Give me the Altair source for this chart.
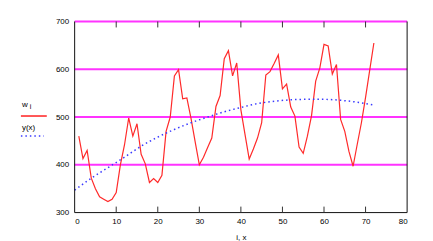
import altair as alt
import pandas as pd

# red series w_i, i = 1..72
w_i = list(range(1, 73))
w_vals = [460, 413, 430, 372, 350, 333, 328, 323, 328, 342,
          400, 442, 498, 460, 486, 422, 402, 363, 371, 363,
          378, 470, 500, 586, 599, 538, 540, 497, 448, 400,
          416, 436, 456, 522, 545, 622, 639, 586, 613, 515,
          463, 412, 433, 456, 488, 588, 595, 612, 630, 559,
          569, 521, 502, 437, 424, 460, 503, 575, 603, 652,
          649, 590, 610, 495, 470, 428, 397, 443, 488, 541,
          598, 655]

# blue fitted curve y(x)
y_x = [0, 4, 8, 12, 16, 20, 24, 28, 32, 36, 40, 44, 48, 52, 56, 60, 64, 68, 72]
y_vals = [347, 372, 394, 416, 439, 458, 474, 488, 500, 511, 520, 528, 533, 536, 537, 537, 535, 531, 525]

x_ticks = [0, 10, 20, 30, 40, 50, 60, 70, 80]
inner_ticks = [10, 20, 30, 40, 50, 60, 70]
y_ticks = [300, 400, 500, 600, 700]
grid_vals = [400, 500, 600, 700]
frame_x = [0, 80]

W, H = 334, 192
LW = 48
FONT = "Liberation Sans"

red_df = pd.DataFrame({"i": w_i, "w": w_vals})
blue_df = pd.DataFrame({"x": y_x, "y": y_vals})
grid_df = pd.DataFrame({"g": grid_vals})
tb_df = pd.DataFrame({"t": inner_ticks, "a": [300] * 7, "b": [312.5] * 7})
tt_df = pd.DataFrame({"t": inner_ticks, "a": [700] * 7, "b": [687.5] * 7})
vframe_df = pd.DataFrame({"fx": frame_x, "lo": [300, 300], "hi": [700, 700]})
bframe_df = pd.DataFrame({"fy": [300], "x0": [0], "x1": [80]})
one = pd.DataFrame({"k": [0]})

xscale = alt.Scale(domain=[0, 80], nice=False, zero=False)
yscale = alt.Scale(domain=[300, 700], nice=False, zero=False)

xaxis = alt.Axis(values=x_ticks, ticks=False, domain=False, grid=False,
                 labelFont=FONT, labelFontSize=8, labelColor="#000", labelPadding=5,
                 title="i, x", titleFont=FONT, titleFontSize=8, titleFontWeight="normal",
                 titleColor="#000", titlePadding=8)
yaxis = alt.Axis(values=y_ticks, ticks=False, domain=False, grid=False,
                 labelFont=FONT, labelFontSize=8, labelColor="#000", labelPadding=6,
                 title=None)

grid = alt.Chart(grid_df).mark_rule(color="#ff33ff", strokeWidth=2).encode(
    y=alt.Y("g:Q", scale=yscale, axis=yaxis)
)
red = alt.Chart(red_df).mark_line(color="#ff2a2a", strokeWidth=1.2).encode(
    x=alt.X("i:Q", scale=xscale, axis=xaxis),
    y=alt.Y("w:Q", scale=yscale),
)
blue = alt.Chart(blue_df).mark_line(color="#3a3aff", strokeWidth=1.5, strokeDash=[1.5, 3],
                                    interpolate="monotone").encode(
    x=alt.X("x:Q", scale=xscale),
    y=alt.Y("y:Q", scale=yscale),
)
vframe = alt.Chart(vframe_df).mark_rule(color="#111111", strokeWidth=1).encode(
    x=alt.X("fx:Q", scale=xscale), y=alt.Y("lo:Q", scale=yscale), y2="hi:Q")
bframe = alt.Chart(bframe_df).mark_rule(color="#111111", strokeWidth=1).encode(
    y=alt.Y("fy:Q", scale=yscale), x=alt.X("x0:Q", scale=xscale), x2="x1:Q")
ticks_bottom = alt.Chart(tb_df).mark_rule(color="#333333", strokeWidth=1).encode(
    x=alt.X("t:Q", scale=xscale), y=alt.Y("a:Q", scale=yscale), y2="b:Q"
)
ticks_top = alt.Chart(tt_df).mark_rule(color="#333333", strokeWidth=1).encode(
    x=alt.X("t:Q", scale=xscale), y=alt.Y("a:Q", scale=yscale), y2="b:Q"
)

main = alt.layer(grid, red, blue, vframe, bframe, ticks_bottom, ticks_top).properties(
    width=W, height=H
)

# legend as its own panel to the left
leg_w = alt.Chart(one).mark_text(
    font=FONT, fontSize=8, align="left", baseline="middle", color="#000", text="w"
).encode(x=alt.value(22), y=alt.value(84))
leg_i = alt.Chart(one).mark_text(
    font=FONT, fontSize=7, align="left", baseline="middle", color="#000", text="i"
).encode(x=alt.value(30), y=alt.value(86))
leg_red = alt.Chart(one).mark_rule(color="#ff5555", strokeWidth=2).encode(
    x=alt.value(21), x2=alt.value(47), y=alt.value(95)
)
leg_y = alt.Chart(one).mark_text(
    font=FONT, fontSize=8, align="left", baseline="middle", color="#000", text="y(x)"
).encode(x=alt.value(22), y=alt.value(107))
leg_blue = alt.Chart(one).mark_rule(color="#3a3aff", strokeWidth=1.5,
                                    strokeDash=[1.5, 3]).encode(
    x=alt.value(21), x2=alt.value(44), y=alt.value(115)
)
legend = alt.layer(leg_w, leg_i, leg_red, leg_y, leg_blue).properties(width=LW, height=H)

chart = alt.hconcat(legend, main, spacing=7).properties(
    padding={"left": 0, "top": 17, "right": 25, "bottom": 4},
    background="white",
).configure_view(
    strokeWidth=0
)

chart.save("out.html", embed_options={"renderer": "svg", "actions": False})
